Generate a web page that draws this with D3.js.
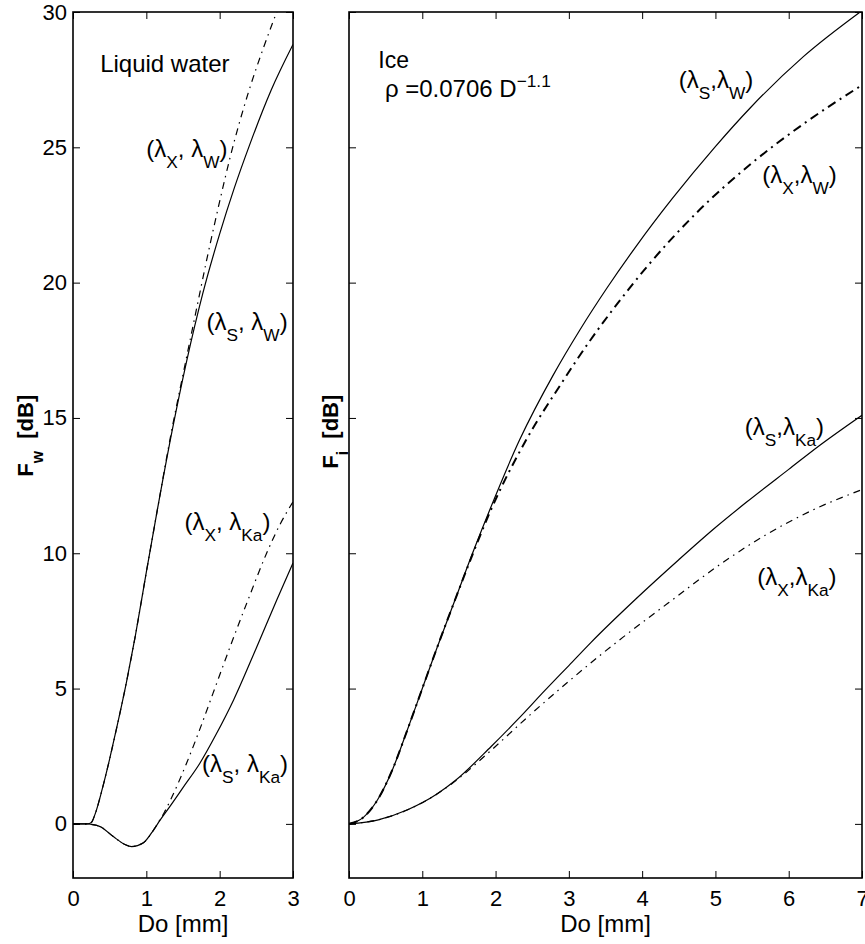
<!DOCTYPE html>
<html>
<head>
<meta charset="utf-8">
<script src="https://cdn.jsdelivr.net/npm/d3@7"></script>
<style>
body { margin: 0; background: #fff; }
text { font-family: "Liberation Sans", Arial, Helvetica, sans-serif; fill: #000; }
</style>
</head>
<body>
<svg width="865" height="944"></svg>
<script>
const width = 865;
const height = 944;

// ---- data: [Do (mm), F (dB)] ----
// liquid water panel
const waterSW = [[0,0],[0.2,0],[0.25,0.05],[0.3,0.35],[0.4,1.3],[0.5,2.4],[0.6,3.6],[0.73,5.25],[0.85,6.95],[1.0,9.3],
  [1.15,11.6],[1.35,14.5],[1.55,17.1],[1.77,19.6],[2.0,21.8],[2.2,23.5],[2.41,25.1],[2.7,27.1],[3.0,28.8]];
const waterXW = [[0,0],[0.2,0],[0.25,0.05],[0.3,0.35],[0.4,1.3],[0.5,2.4],[0.6,3.6],[0.73,5.25],[0.85,6.95],[1.0,9.3],
  [1.15,11.6],[1.35,14.6],[1.5,16.6],[1.69,19.1],[1.82,20.8],[2.0,23.0],[2.14,24.6],[2.4,27.1],[2.6,28.7],[2.85,30.5]];
const waterSKa = [[0,0],[0.2,0],[0.25,-0.02],[0.37,-0.1],[0.55,-0.47],[0.7,-0.75],[0.8,-0.84],[0.96,-0.7],[1.1,-0.22],
  [1.19,0.15],[1.32,0.64],[1.5,1.34],[1.73,2.24],[1.95,3.3],[2.19,4.58],[2.5,6.5],[2.78,8.28],[3.0,9.64]];
const waterXKa = [[0,0],[0.2,0],[0.25,-0.02],[0.37,-0.1],[0.55,-0.47],[0.7,-0.75],[0.8,-0.84],[0.96,-0.7],[1.1,-0.22],
  [1.19,0.17],[1.25,0.45],[1.35,1.0],[1.55,2.25],[1.73,3.5],[1.91,4.83],[2.15,6.6],[2.39,8.3],[2.64,10.0],[2.82,11.05],[3.0,11.9]];

// ice panel
const iceSW = [[0,0],[0.2,0.25],[0.39,0.89],[0.6,2.05],[0.76,3.2],[1.0,5.0],[1.2,6.5],[1.45,8.3],[1.7,10.1],[1.92,11.6],
  [2.33,14.2],[2.79,16.6],[3.15,18.25],[3.52,19.8],[3.92,21.35],[4.41,23.1],[4.99,25.0],[5.49,26.5],[6.2,28.35],[7.0,30.05]];
const iceXW = [[0,0],[0.2,0.25],[0.39,0.89],[0.6,2.05],[0.76,3.2],[1.0,5.0],[1.2,6.5],[1.45,8.3],[1.7,10.05],[1.92,11.5],
  [2.42,14.2],[2.88,16.2],[3.3,17.9],[3.67,19.25],[4.07,20.6],[4.75,22.6],[5.49,24.4],[6.22,25.9],[7.0,27.3]];
const iceSKa = [[0,0],[0.4,0.15],[0.8,0.52],[1.2,1.1],[1.45,1.6],[1.94,2.86],[2.3,3.85],[2.68,4.95],[3.0,5.85],[3.3,6.7],
  [3.91,8.3],[4.5,9.76],[5.0,10.95],[5.43,11.9],[6.0,13.1],[6.43,14.0],[7.0,15.1]];
const iceXKa = [[0,0],[0.4,0.15],[0.8,0.52],[1.2,1.1],[1.45,1.58],[1.94,2.72],[2.48,4.05],[3.0,5.27],[3.45,6.28],[3.74,6.9],
  [4.35,8.15],[5.15,9.75],[5.7,10.7],[6.33,11.6],[7.0,12.35]];

const waterXTicks = [0, 1, 2, 3];
const iceXTicks = [0, 1, 2, 3, 4, 5, 6, 7];
const yTicks = [0, 5, 10, 15, 20, 25, 30];

const svg = d3.select('svg');

const y = d3.scaleLinear().domain([-2, 30]).range([878, 12]);
const xWater = d3.scaleLinear().domain([0, 3]).range([73, 293]);
const xIce = d3.scaleLinear().domain([0, 7]).range([349, 862]);

// text with sub/superscripts, parts = [[str, 'sub'|'sup'|undefined], ...]
const richText = (g, x, yy, parts, size, weight) => {
  const t = g.append('text')
    .attr('x', x).attr('y', yy)
    .attr('font-size', size)
    .attr('font-weight', weight || 'normal');
  let shift = 0;
  parts.forEach(p => {
    const target = p[1] === 'sub' ? size * 0.45 : p[1] === 'sup' ? -size * 0.42 : 0;
    t.append('tspan')
      .attr('dy', target - shift)
      .attr('font-size', p[1] ? size * 0.72 : size)
      .text(p[0]);
    shift = target;
  });
  return t;
};

const panel = (xScale, xTicks, showYLabels, id) => {
  const g = svg.append('g');
  const [x0, x1] = xScale.range();
  const [y1, y0] = y.range();

  svg.append('clipPath').attr('id', id)
    .append('rect').attr('x', x0).attr('y', y0).attr('width', x1 - x0).attr('height', y1 - y0);

  const bottom = g.append('g').attr('transform', `translate(0,${y1})`)
    .call(d3.axisBottom(xScale).tickValues(xTicks).tickSize(-7).tickPadding(12).tickFormat(d3.format('d')));
  const top = g.append('g').attr('transform', `translate(0,${y0})`)
    .call(d3.axisTop(xScale).tickValues(xTicks).tickSize(-7).tickFormat(''));
  const left = g.append('g').attr('transform', `translate(${x0},0)`)
    .call(d3.axisLeft(y).tickValues(yTicks).tickSize(-7).tickPadding(6)
      .tickFormat(showYLabels ? d3.format('d') : ''));
  const right = g.append('g').attr('transform', `translate(${x1},0)`)
    .call(d3.axisRight(y).tickValues(yTicks).tickSize(-7).tickFormat(''));

  [bottom, top, left, right].forEach(a => {
    a.select('.domain').remove();
    a.selectAll('line').attr('stroke', '#000').attr('stroke-width', 1);
    a.selectAll('text').attr('font-size', 22).attr('fill', '#000')
      .style('font-family', '"Liberation Sans", Arial, sans-serif');
  });

  g.append('rect')
    .attr('x', x0).attr('y', y0).attr('width', x1 - x0).attr('height', y1 - y0)
    .attr('fill', 'none').attr('stroke', '#000').attr('stroke-width', 1.6);

  g.append('text')
    .attr('x', (x0 + x1) / 2).attr('y', 932)
    .attr('text-anchor', 'middle').attr('font-size', 24)
    .text('Do [mm]');

  return g;
};

const line = xScale => d3.line()
  .x(d => xScale(d[0]))
  .y(d => y(d[1]))
  .curve(d3.curveMonotoneX);

const drawCurve = (g, xScale, data, dashed, sw, clipId) => {
  g.append('path')
    .datum(data)
    .attr('d', line(xScale))
    .attr('fill', 'none')
    .attr('stroke', '#000')
    .attr('stroke-width', sw)
    .attr('stroke-dasharray', dashed ? (sw > 1.5 ? '9,5,2,5' : '7,5,1.5,5') : null)
    .attr('clip-path', `url(#${clipId})`);
};

// ---- left panel: liquid water ----
const gw = panel(xWater, waterXTicks, true, 'clipW');
drawCurve(gw, xWater, waterSW, false, 1.2, 'clipW');
drawCurve(gw, xWater, waterXW, true, 1.2, 'clipW');
drawCurve(gw, xWater, waterSKa, false, 1.2, 'clipW');
drawCurve(gw, xWater, waterXKa, true, 1.2, 'clipW');

richText(gw, xWater(0.37), y(27.8), [['Liquid water']], 24);
richText(gw, xWater(1.0), y(24.65), [['(λ'], ['X', 'sub'], [', λ'], ['W', 'sub'], [')']], 24);
richText(gw, xWater(1.82), y(18.25), [['(λ'], ['S', 'sub'], [', λ'], ['W', 'sub'], [')']], 24);
richText(gw, xWater(1.52), y(10.86), [['(λ'], ['X', 'sub'], [', λ'], ['Ka', 'sub'], [')']], 24);
richText(gw, xWater(1.76), y(1.92), [['(λ'], ['S', 'sub'], [', λ'], ['Ka', 'sub'], [')']], 24);

const yl1 = richText(gw, 0, 0, [['F'], ['w', 'sub'], ['  [dB]']], 22, 'bold');
yl1.attr('transform', `translate(33,${y(14.6) + 48}) rotate(-90)`).attr('xml:space', 'preserve');

// ---- right panel: ice ----
const gi = panel(xIce, iceXTicks, false, 'clipI');
drawCurve(gi, xIce, iceSW, false, 1.2, 'clipI');
drawCurve(gi, xIce, iceXW, true, 2.0, 'clipI');
drawCurve(gi, xIce, iceSKa, false, 1.2, 'clipI');
drawCurve(gi, xIce, iceXKa, true, 1.2, 'clipI');

richText(gi, xIce(0.4), y(27.93), [['Ice']], 23);
richText(gi, xIce(0.49), y(26.86), [['ρ =0.0706 D'], ['−1.1', 'sup']], 24);
richText(gi, xIce(4.5), y(27.19), [['(λ'], ['S', 'sub'], [',λ'], ['W', 'sub'], [')']], 24);
richText(gi, xIce(5.64), y(23.68), [['(λ'], ['X', 'sub'], [',λ'], ['W', 'sub'], [')']], 24);
richText(gi, xIce(5.4), y(14.37), [['(λ'], ['S', 'sub'], [',λ'], ['Ka', 'sub'], [')']], 24);
richText(gi, xIce(5.57), y(8.83), [['(λ'], ['X', 'sub'], [',λ'], ['Ka', 'sub'], [')']], 24);

const yl2 = richText(gi, 0, 0, [['F'], ['i', 'sub'], ['  [dB]']], 22, 'bold');
yl2.attr('transform', `translate(338,${y(14.6) + 40}) rotate(-90)`).attr('xml:space', 'preserve');
</script>
</body>
</html>
